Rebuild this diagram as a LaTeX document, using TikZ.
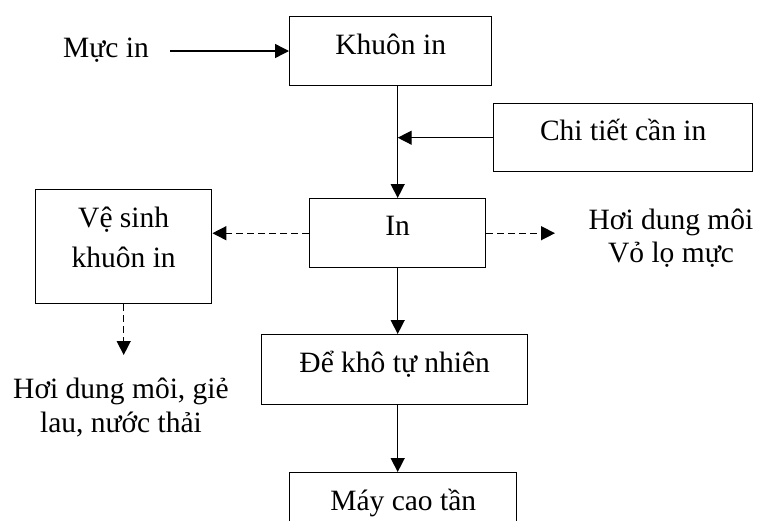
\documentclass[tikz,border=0pt]{standalone}
\usepackage{fontspec}
\setmainfont{Liberation Serif}
\usetikzlibrary{arrows.meta}
\begin{document}
\begin{tikzpicture}[x=1pt,y=-1pt,
  font=\fontsize{29.5}{33}\selectfont,
  box/.style={draw, line width=1.4pt, inner sep=0pt, anchor=north west},
  arr/.style={line width=1.4pt, -{Triangle[length=14pt,width=14pt]}},
  darr/.style={arr, dash pattern=on 7pt off 4pt},
]
\useasboundingbox (0,0) rectangle (758,520);
\node[box, minimum width=202pt, text height=38pt, text depth=31pt] (ki) at (289,16) {Khuôn in};
\node[box, minimum width=259pt, text height=37pt, text depth=31pt] (ct) at (493,103) {Chi tiết cần in};
\node[box, minimum width=176pt, text height=37pt, text depth=32pt] (in) at (309,198) {In};
\node[box, minimum width=176pt, text height=78pt, text depth=36pt, align=center] (vs) at (35,189) {Vệ sinh\\[7pt]khuôn in};
\node[box, minimum width=266pt, text height=38pt, text depth=32pt] (dk) at (261,334) {Để khô tự nhiên};
\node[box, minimum width=227pt, text height=38pt, text depth=40pt] (mc) at (289,472) {Máy cao tần};
\node[anchor=base] (mi) at (106,57) {Mực in};
\node[anchor=base, align=center] (hd) at (671,262) {Hơi dung môi\\Vỏ lọ mực};
\node[anchor=base, align=center] (hg) at (121,432) {Hơi dung môi, giẻ\\[1pt]lau, nước thải};
\coordinate (mis) at (170,51);
\coordinate (re) at (555,0);
\coordinate (vd) at (0,355);
\draw[arr] (mis) -- (mis -| ki.west);
\draw[arr] (ki.south -| in.north) -- (in.north);
\draw[arr] (ct.west) -- (ct.west -| in.north);
\draw[arr] (in.south) -- (in.south |- dk.north);
\draw[arr] (dk.south -| in.south) -- (mc.north -| in.south);
\draw[darr] (in.west) -- (in.west -| vs.east);
\draw[darr] (in.east) -- (in.east -| re);
\draw[darr] (vs.south) -- (vs.south |- vd);
\end{tikzpicture}
\end{document}
